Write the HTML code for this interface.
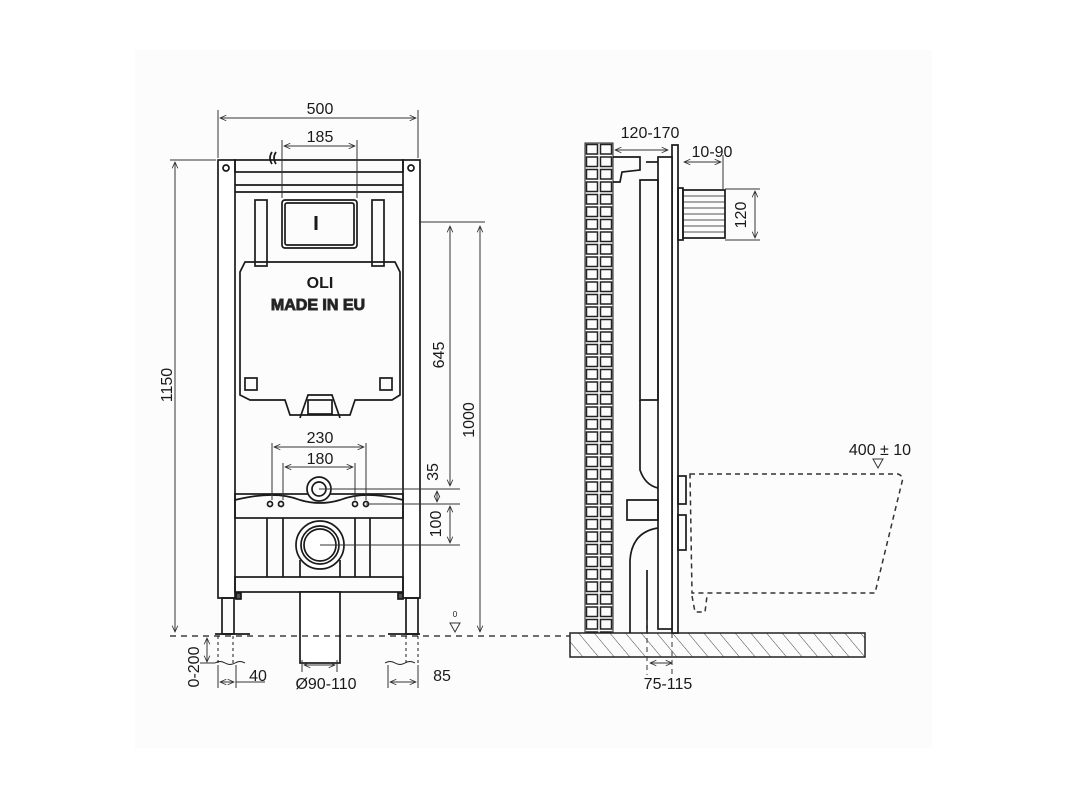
<!DOCTYPE html>
<html><head><meta charset="utf-8"><style>
html,body{margin:0;padding:0;background:#fff;}
svg{display:block;}
text{font-family:"Liberation Sans",sans-serif;fill:#1a1a1a;}
</style></head><body>
<svg width="1067" height="800" viewBox="0 0 1067 800" xmlns="http://www.w3.org/2000/svg">
<defs>
<marker id="a" viewBox="0 0 10 10" refX="9" refY="5" markerWidth="7" markerHeight="7" orient="auto-start-reverse"><path d="M0,1 L9,5 L0,9" fill="none" stroke="#333" stroke-width="1.2"/></marker>
<pattern id="h" width="12" height="12" patternUnits="userSpaceOnUse" patternTransform="rotate(-40)"><line x1="0" y1="0" x2="0" y2="12" stroke="#444" stroke-width="1"/></pattern>
<pattern id="br" x="585" y="143" width="14" height="12.5" patternUnits="userSpaceOnUse"><rect x="1.5" y="1.5" width="11" height="9.5" fill="none" stroke="#222" stroke-width="1.5"/></pattern>
</defs>
<rect x="135" y="50" width="797" height="698" fill="#fcfcfc"/>
<g stroke="#1a1a1a" fill="none" stroke-width="1.7">
<rect x="218" y="160" width="17" height="438" fill="#fff"/>
<rect x="403" y="160" width="17" height="438" fill="#fff"/>
<rect x="235" y="160" width="168" height="12"/>
<line x1="235" y1="185" x2="403" y2="185"/><line x1="235" y1="192" x2="403" y2="192"/>
<circle cx="226" cy="168" r="3"/><circle cx="411" cy="168" r="3"/>
<path d="M272,152 q-4,6 0,12 M276,152 q-4,6 0,12"/>
<rect x="282" y="200" width="75" height="48" rx="3"/>
<rect x="285" y="203" width="69" height="42" rx="2"/>
<line x1="316" y1="216" x2="316" y2="230" stroke-width="3"/>
<rect x="255" y="200" width="12" height="66"/><rect x="372" y="200" width="12" height="66"/>
<path d="M245,262 L240,272 L240,395 L250,400 L285,400 L290,415 L350,415 L355,400 L392,400 L400,395 L400,272 L395,262 Z"/>
<rect x="245" y="378" width="12" height="12"/><rect x="380" y="378" width="12" height="12"/>
<path d="M300,418 L308,395 L332,395 L340,418"/><rect x="308" y="400" width="24" height="14"/>
<rect x="235" y="494" width="168" height="24"/>
<path d="M235,500 Q275,490 300,500 Q320,506 340,500 Q365,490 403,500"/>
<circle cx="270" cy="504" r="2.5"/><circle cx="281" cy="504" r="2.5"/><circle cx="355" cy="504" r="2.5"/><circle cx="366" cy="504" r="2.5"/>
<circle cx="319" cy="489" r="12" fill="#fff"/><circle cx="319" cy="489" r="7"/>
<line x1="267" y1="518" x2="267" y2="577"/><line x1="283" y1="518" x2="283" y2="577"/>
<line x1="355" y1="518" x2="355" y2="577"/><line x1="370" y1="518" x2="370" y2="577"/>
<line x1="300" y1="560" x2="300" y2="577"/><line x1="340" y1="560" x2="340" y2="577"/>
<circle cx="320" cy="545" r="24" fill="#fff"/><circle cx="320" cy="545" r="19"/><circle cx="320" cy="545" r="16"/>
<rect x="235" y="577" width="168" height="15"/>
<rect x="300" y="592" width="40" height="71" fill="#fff"/>
<rect x="222" y="598" width="12" height="36"/><rect x="406" y="598" width="12" height="36"/>
<path d="M215,634 L250,634 M388,634 L420,634"/>
<rect x="236" y="593" width="5" height="6" fill="#555"/><rect x="398" y="593" width="5" height="6" fill="#555"/>
<path d="M218,636 L218,663 M233,636 L233,663 M406,636 L406,663 M418,636 L418,663" stroke-dasharray="3,3" stroke-width="1"/>
<path d="M215,663 q5,-3 10,0 t10,0 t10,0 M385,663 q5,-3 10,0 t10,0 t10,0" stroke-width="1"/>
<line x1="170" y1="636" x2="570" y2="636" stroke-dasharray="6,5" stroke-width="1.2"/>
</g>
<g stroke="#333" fill="none" stroke-width="1">
<line x1="218" y1="110" x2="218" y2="158"/><line x1="418" y1="110" x2="418" y2="158"/>
<line x1="220" y1="118" x2="416" y2="118" marker-start="url(#a)" marker-end="url(#a)"/>
<line x1="282" y1="140" x2="282" y2="198"/><line x1="357" y1="140" x2="357" y2="198"/>
<line x1="284" y1="146" x2="355" y2="146" marker-start="url(#a)" marker-end="url(#a)"/>
<line x1="170" y1="160" x2="216" y2="160"/>
<line x1="175" y1="162" x2="175" y2="632" marker-start="url(#a)" marker-end="url(#a)"/>
<line x1="420" y1="222" x2="485" y2="222"/>
<line x1="450" y1="226" x2="450" y2="486" marker-start="url(#a)" marker-end="url(#a)"/>
<line x1="480" y1="226" x2="480" y2="632" marker-start="url(#a)" marker-end="url(#a)"/>
<line x1="319" y1="489" x2="460" y2="489"/><line x1="366" y1="504" x2="460" y2="504"/>
<line x1="437" y1="491" x2="437" y2="502" marker-start="url(#a)" marker-end="url(#a)"/>
<line x1="320" y1="545" x2="460" y2="545"/>
<line x1="450" y1="506" x2="450" y2="543" marker-start="url(#a)" marker-end="url(#a)"/>
<line x1="272" y1="443" x2="272" y2="500"/><line x1="366" y1="443" x2="366" y2="500"/>
<line x1="274" y1="447" x2="364" y2="447" marker-start="url(#a)" marker-end="url(#a)"/>
<line x1="283" y1="463" x2="283" y2="500"/><line x1="355" y1="463" x2="355" y2="500"/>
<line x1="285" y1="467" x2="353" y2="467" marker-start="url(#a)" marker-end="url(#a)"/>
<line x1="207" y1="638" x2="207" y2="662" marker-start="url(#a)" marker-end="url(#a)"/>
<line x1="200" y1="663" x2="215" y2="663"/>
<line x1="218" y1="665" x2="218" y2="688"/><line x1="236" y1="665" x2="236" y2="688"/>
<line x1="220" y1="682" x2="234" y2="682" marker-start="url(#a)" marker-end="url(#a)"/><line x1="236" y1="682" x2="265" y2="682"/>
<line x1="302" y1="660" x2="302" y2="672"/><line x1="337" y1="660" x2="337" y2="672"/>
<line x1="304" y1="665" x2="335" y2="665" marker-start="url(#a)" marker-end="url(#a)"/>
<line x1="388" y1="665" x2="388" y2="688"/><line x1="418" y1="665" x2="418" y2="688"/>
<line x1="390" y1="682" x2="416" y2="682" marker-start="url(#a)" marker-end="url(#a)"/>
<path d="M450,623 L460,623 L455,632 Z"/>
</g>
<text x="320" y="114" font-size="16" text-anchor="middle">500</text>
<text x="320" y="142" font-size="16" text-anchor="middle">185</text>
<text x="320" y="443" font-size="16" text-anchor="middle">230</text>
<text x="320" y="464" font-size="16" text-anchor="middle">180</text>
<text x="320" y="288" font-size="16" font-weight="bold" text-anchor="middle">OLI</text>
<text x="318" y="310" font-size="16" font-weight="bold" text-anchor="middle" fill="#fff" stroke="#333" stroke-width="1">MADE IN EU</text>
<text transform="translate(172,385) rotate(-90)" font-size="16" text-anchor="middle">1150</text>
<text transform="translate(444,355) rotate(-90)" font-size="16" text-anchor="middle">645</text>
<text transform="translate(474,420) rotate(-90)" font-size="16" text-anchor="middle">1000</text>
<text transform="translate(438,472) rotate(-90)" font-size="16" text-anchor="middle">35</text>
<text transform="translate(441,524) rotate(-90)" font-size="16" text-anchor="middle">100</text>
<text transform="translate(199,667) rotate(-90)" font-size="16" text-anchor="middle">0-200</text>
<text x="258" y="681" font-size="16" text-anchor="middle">40</text>
<text x="326" y="689" font-size="16" text-anchor="middle">Ø90-110</text>
<text x="442" y="681" font-size="16" text-anchor="middle">85</text>
<text x="455" y="617" font-size="8" text-anchor="middle">0</text>

<rect x="570" y="633" width="295" height="24" fill="url(#h)" stroke="#222" stroke-width="1.5"/>
<rect x="585" y="143" width="28" height="490" fill="url(#br)" stroke="#222" stroke-width="1"/>
<g stroke="#1a1a1a" fill="none" stroke-width="1.7">
<rect x="672" y="145" width="6" height="488" fill="#fff"/>
<rect x="658" y="157" width="14" height="472" fill="#fff"/>
<path d="M613,157 L640,157 L640,170 L622,172 L620,182 L613,182"/>
<path d="M646,162 L658,162"/>
<path d="M640,180 L658,180 L658,400 L640,400 Z"/>
<path d="M640,400 L640,470 Q645,485 658,488"/>
<path d="M627,500 L658,500 L658,520 L627,520 Z"/>
<path d="M630,633 L630,560 Q632,532 658,528"/><path d="M647,633 L647,570"/>
<rect x="678" y="188" width="5" height="52"/>
<rect x="683" y="190" width="42" height="48"/>
<path d="M683,196 H725 M683,202 H725 M683,208 H725 M683,214 H725 M683,220 H725 M683,226 H725 M683,232 H725" stroke-width="0.8"/>
<rect x="678" y="476" width="8" height="28"/><rect x="678" y="515" width="8" height="35"/>
</g>
<g stroke="#333" fill="none" stroke-width="1.5" stroke-dasharray="5,4">
<path d="M690,474 L898,474 Q904,476 902,482 L875,593 L692,593 Z"/>
<path d="M692,596 L695,612 L705,612 L707,596"/>
<path d="M647,620 L647,675 M672,633 L672,675" stroke-width="1"/>
</g>
<g stroke="#333" fill="none" stroke-width="1">
<line x1="615" y1="150" x2="668" y2="150" marker-start="url(#a)" marker-end="url(#a)"/>
<line x1="723" y1="155" x2="723" y2="190"/>
<line x1="684" y1="162" x2="721" y2="162" marker-start="url(#a)" marker-end="url(#a)"/>
<line x1="725" y1="189" x2="760" y2="189"/><line x1="725" y1="240" x2="760" y2="240"/>
<line x1="755" y1="191" x2="755" y2="238" marker-start="url(#a)" marker-end="url(#a)"/>
<line x1="650" y1="663" x2="672" y2="663" marker-start="url(#a)" marker-end="url(#a)"/>
<path d="M873,459 L883,459 L878,468 Z"/>
</g>
<text x="650" y="138" font-size="16" text-anchor="middle">120-170</text>
<text x="712" y="157" font-size="16" text-anchor="middle">10-90</text>
<text transform="translate(746,215) rotate(-90)" font-size="16" text-anchor="middle">120</text>
<text x="880" y="455" font-size="16" text-anchor="middle">400 ± 10</text>
<text x="668" y="689" font-size="16" text-anchor="middle">75-115</text>
</svg>
</body></html>
